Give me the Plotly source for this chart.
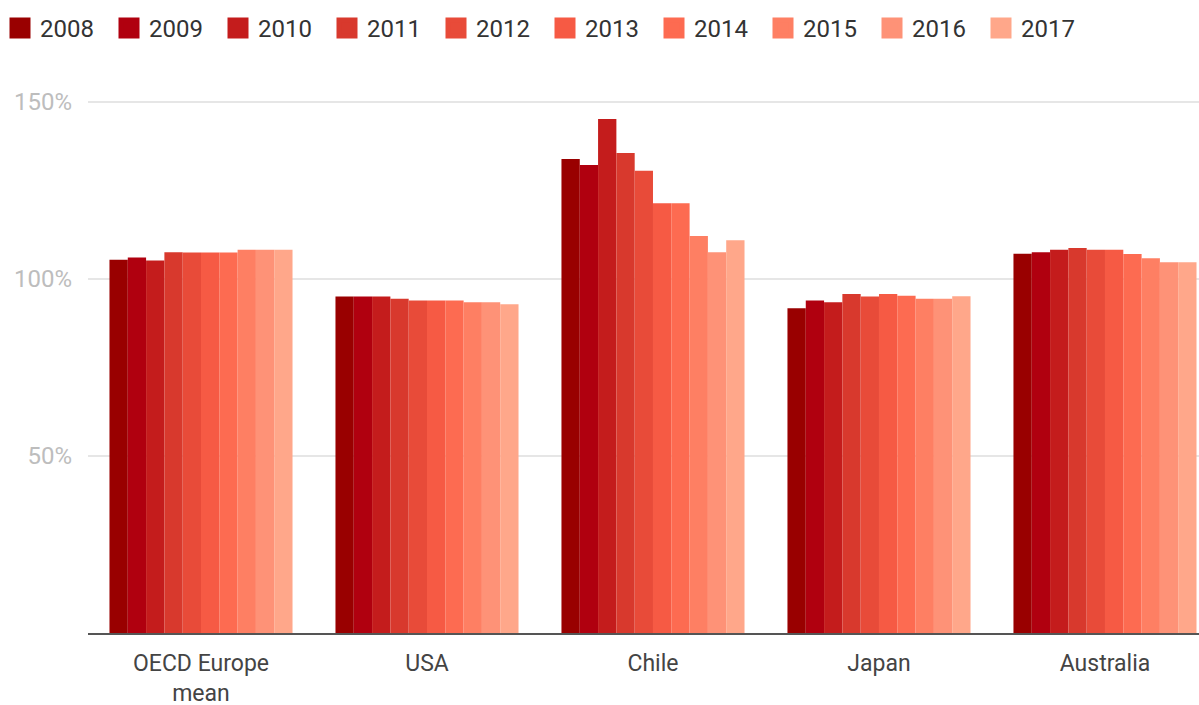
import plotly.graph_objects as go

categories = ["OECD Europe<br>mean", "USA", "Chile", "Japan", "Australia"]
years = ["2008", "2009", "2010", "2011", "2012", "2013", "2014", "2015", "2016", "2017"]

# values per year (percent), one list per category order above
v2008 = [105.4, 95.0, 133.8, 91.7, 107.1]
v2009 = [106.0, 95.0, 132.1, 93.9, 107.5]
v2010 = [105.2, 95.0, 145.1, 93.4, 108.2]
v2011 = [107.5, 94.4, 135.5, 95.7, 108.7]
v2012 = [107.4, 93.9, 130.5, 95.0, 108.2]
v2013 = [107.4, 93.9, 121.3, 95.7, 108.2]
v2014 = [107.4, 93.9, 121.3, 95.2, 107.0]
v2015 = [108.2, 93.4, 112.1, 94.4, 105.8]
v2016 = [108.2, 93.4, 107.5, 94.4, 104.7]
v2017 = [108.2, 92.8, 110.9, 95.1, 104.7]
series = [v2008, v2009, v2010, v2011, v2012, v2013, v2014, v2015, v2016, v2017]

colors = ["#990000", "#b0000f", "#c41c1c", "#d8392d", "#e84b39", "#f65a44",
          "#fd6b51", "#fe7f63", "#fe9277", "#ffa78a"]

fig = go.Figure()
for yr, vals, c in zip(years, series, colors):
    fig.add_trace(go.Bar(x=categories, y=vals, name=yr, marker=dict(color=c, line=dict(width=0)),
                         legendgroup=yr, showlegend=False))
    fig.add_trace(go.Scatter(x=[None], y=[None], mode="markers", name=yr, legendgroup=yr,
                             marker=dict(symbol="square", size=16, color=c, line=dict(color=c, width=5))))

fig.update_layout(
    width=1199, height=705,
    margin=dict(l=88, r=0, t=84, b=72, autoexpand=False),
    paper_bgcolor="white", plot_bgcolor="white",
    font=dict(family="Roboto", size=24, color="#333333"),
    barmode="group", bargap=0.19, bargroupgap=0,
    legend=dict(orientation="h", xref="container", yref="container", x=0, y=0.9915,
                xanchor="left", yanchor="top", entrywidth=64, entrywidthmode="pixels",
                font=dict(size=24, color="#333333"), itemclick=False, itemdoubleclick=False,
                tracegroupgap=0),
    xaxis=dict(range=[-0.5, 4.416], showgrid=False, showline=True, linecolor="#555555",
               linewidth=2, ticks="", tickfont=dict(size=23, color="#444444"),
               ticklabelstandoff=8, fixedrange=True),
    yaxis=dict(range=[0, 155], tickvals=[50, 100, 150], ticktext=["50%", "100%", "150%"],
               showgrid=True, gridcolor="#e6e6e6", gridwidth=2, zeroline=False, showline=False,
               tickfont=dict(size=24, color="#bdbdbd"), ticklabelstandoff=15, fixedrange=True),
)

fig.write_html("out.html")
